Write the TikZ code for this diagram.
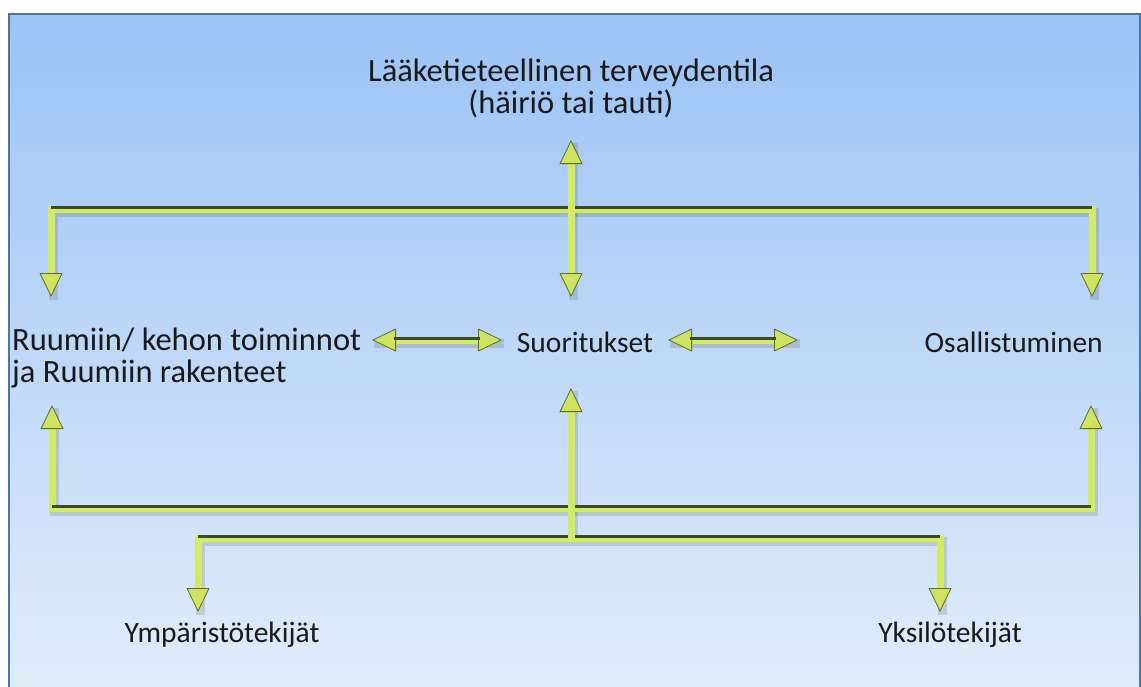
\documentclass[tikz,border=0pt]{standalone}
\usepackage{fontspec}
\setmainfont{Carlito}
\usetikzlibrary{arrows.meta}
\definecolor{lg}{HTML}{D2EA66}
\definecolor{dg}{HTML}{3E4C16}
\definecolor{tipfill}{HTML}{CFE262}
\definecolor{tipedge}{HTML}{5E6E22}
\definecolor{framec}{HTML}{4676AA}
\definecolor{bgtop}{HTML}{9BC3F5}
\definecolor{bgbot}{HTML}{E1ECFA}
\tikzset{
  txt/.style={font=\fontsize{29.5}{32}\selectfont, inner sep=0pt, text=black!90},
  bigtxt/.style={font=\fontsize{32.5}{32}\selectfont, inner sep=0pt, text=black!90},
  tip/.tip={Triangle[length=24pt,width=23pt,line width=0.8pt,fill=tipfill,color=tipedge]},
  gline/.style={draw=lg, line width=7pt, line join=miter},
  topedge/.style={draw=dg, line width=3pt, transform canvas={yshift=2pt}},
  shadowline/.style={draw=black, opacity=0.12, line width=9pt, transform canvas={shift={(2pt,-3pt)}}}
}
\begin{document}
\begin{tikzpicture}[x=1pt,y=-1pt]
\useasboundingbox (0,0) rectangle (1141,686);
\fill[white] (0,0) rectangle (1141,686);
\shade[top color=bgtop,bottom color=bgbot] (9,14) rectangle (1141,686);
\draw[framec,line width=2.5pt] (9,700) -- (9,14) -- (1140,14) -- (1140,700);

% texts
\node[bigtxt, align=center] (top) at (571,88) {Lääketieteellinen terveydentila\\(häiriö tai tauti)};
\node[bigtxt, align=left, anchor=west] (body) at (12,358) {Ruumiin/ kehon toiminnot\\ja Ruumiin rakenteet};
\node[txt] (act) at (585,342) {Suoritukset};
\node[txt, anchor=east] (part) at (1103,342) {Osallistuminen};
\node[txt] (env) at (222,635) {Ympäristötekijät};
\node[txt] (pers) at (950,635) {Yksilötekijät};

% coordinates
\coordinate (t1) at (571,140);
\coordinate (t2) at (571,297);
\coordinate (hL) at (51,209);
\coordinate (hR) at (1092,209);
\coordinate (hLt) at (51,297);
\coordinate (hRt) at (1092,297);
\coordinate (a1) at (372,340);
\coordinate (a2) at (502,340);
\coordinate (a3) at (668,340);
\coordinate (a4) at (798,340);
\coordinate (u1) at (571,388);
\coordinate (u2) at (571,538);
\coordinate (bL) at (52,508);
\coordinate (bR) at (1091,508);
\coordinate (bLt) at (52,405);
\coordinate (bRt) at (1091,405);
\coordinate (cL) at (198,538);
\coordinate (cR) at (940,538);
\coordinate (cLt) at (198,612);
\coordinate (cRt) at (940,612);

% shadows
\draw[shadowline] (hLt) -- (hL) -- (hR) -- (hRt);
\draw[shadowline] (bLt) -- (bL) -- (bR) -- (bRt);
\draw[shadowline] (cLt) -- (cL) -- (cR) -- (cRt);
\draw[shadowline] (t1) -- (t2);
\draw[shadowline] (u1) -- (u2);
\draw[shadowline] (a1) -- (a2);
\draw[shadowline] (a3) -- (a4);

% upper bracket
\draw[gline, tip-tip] (hLt) -- (hL) -- (hR) -- (hRt);
\draw[topedge] (hL) -- (hR);
% lower brackets
\draw[gline, tip-tip] (bLt) -- (bL) -- (bR) -- (bRt);
\draw[topedge] (bL) -- (bR);
\draw[gline, tip-tip] (cLt) -- (cL) -- (cR) -- (cRt);
\draw[topedge] (cL) -- (cR);
% verticals
\draw[gline, tip-tip] (t1) -- (t2);
\draw[gline, tip-] (u1) -- (u2);
% horizontal double arrows
\draw[gline, tip-tip] (a1) -- (a2);
\draw[topedge, shorten <=22pt, shorten >=22pt] (a1) -- (a2);
\draw[gline, tip-tip] (a3) -- (a4);
\draw[topedge, shorten <=22pt, shorten >=22pt] (a3) -- (a4);
\end{tikzpicture}
\end{document}
